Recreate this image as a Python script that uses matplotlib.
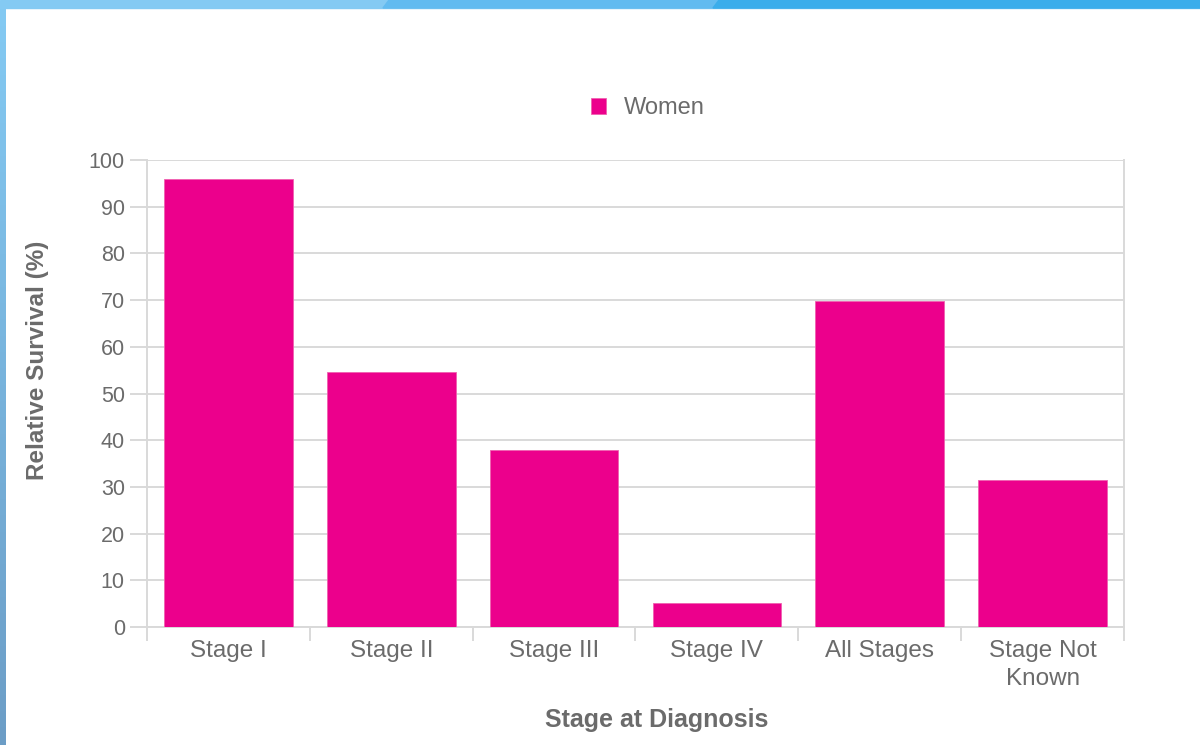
import numpy as np
import matplotlib.pyplot as plt
from matplotlib.patches import Rectangle, Polygon

plt.rcParams['font.family'] = ['Liberation Sans', 'DejaVu Sans']

stages = ['Stage I', 'Stage II', 'Stage III', 'Stage IV', 'All Stages', 'Stage Not\nKnown']
women = [96.0, 54.6, 37.9, 5.2, 69.9, 31.5]
y_ticks = [0, 10, 20, 30, 40, 50, 60, 70, 80, 90, 100]

pink = '#EC008C'
grid_col = '#d9d9d9'
text_col = '#6b6b6b'

fig = plt.figure(figsize=(12, 7.45), dpi=100)

# decorative frame (top band + left band)
W, H = 1200, 745
def fx(px):
    return px / W
def fy(py):
    return 1 - py / H

fig.patches.append(Rectangle((0, fy(8)), 1, 8 / H, transform=fig.transFigure,
                             color='#84CAF3', zorder=0))
fig.patches.append(Polygon([(fx(383), fy(8)), (fx(389), 1), (1, 1), (1, fy(8))],
                           closed=True, transform=fig.transFigure, color='#62BBF0', zorder=0))
fig.patches.append(Polygon([(fx(713), fy(8)), (fx(719), 1), (1, 1), (1, fy(8))],
                           closed=True, transform=fig.transFigure, color='#3AADEB', zorder=0))
gax = fig.add_axes([0, 0, fx(6), fy(8)])
grad = np.linspace(0, 1, 256).reshape(-1, 1)
top_c = np.array([0x84, 0xCA, 0xF3]) / 255
bot_c = np.array([0x6C, 0x9D, 0xC6]) / 255
img = top_c[None, None, :] * (1 - grad[:, :, None]) + bot_c[None, None, :] * grad[:, :, None]
gax.imshow(img, aspect='auto', extent=[0, 1, 0, 1])
gax.axis('off')

ax = fig.add_axes([fx(147), fy(627), fx(1124) - fx(147), fy(160) - fy(627)])
x = np.arange(len(stages))
ax.bar(x, women, width=0.79, color=pink, edgecolor='#f060b0', linewidth=0.6,
       label='Women', zorder=3)

ax.set_xlim(-0.5, len(stages) - 0.5)
ax.set_ylim(0, 100)
ax.set_yticks(y_ticks)
ax.set_yticklabels([str(v) for v in y_ticks], fontsize=15.5, color=text_col)
ax.yaxis.grid(True, color=grid_col, linewidth=1.4, zorder=0)
ax.tick_params(axis='y', length=12, width=1.4, color=grid_col, pad=4)

ax.set_xticks(x)
ax.set_xticklabels(stages, fontsize=17.5, color=text_col, linespacing=1.4)
ax.tick_params(axis='x', length=0, pad=9)
ax.set_xticks(np.arange(len(stages) + 1) - 0.5, minor=True)
ax.tick_params(axis='x', which='minor', length=10, width=1.4, color=grid_col)

for side in ['left', 'right', 'bottom']:
    ax.spines[side].set_color(grid_col)
    ax.spines[side].set_linewidth(1.4)
ax.spines['top'].set_visible(False)

fig.text(fx(38), fy(360), 'Relative Survival (%)', rotation=90, fontsize=17.5,
         fontweight='bold', color=text_col, ha='center', va='center')
fig.text(fx(657), fy(720), 'Stage at Diagnosis', fontsize=18,
         fontweight='bold', color=text_col, ha='center', va='center')

leg = fig.legend(*ax.get_legend_handles_labels(), loc='center',
                 bbox_to_anchor=(fx(648), fy(108)), frameon=False,
                 fontsize=17, handlelength=0.65, handleheight=0.65, handletextpad=0.75)
for t in leg.get_texts():
    t.set_color(text_col)

fig.savefig('out.png', dpi=100)
